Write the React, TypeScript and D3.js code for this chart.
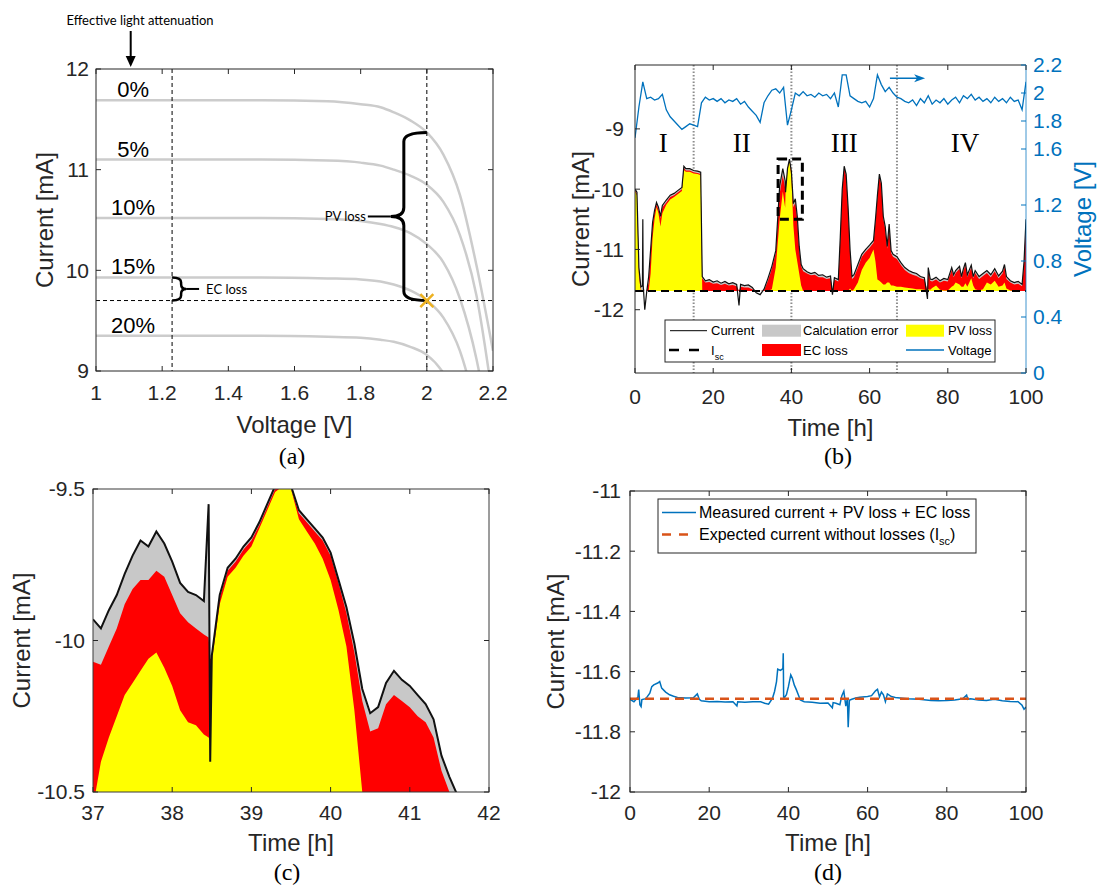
import React, { useEffect, useRef } from "react";
import * as d3 from "d3";

const SANS = "'Liberation Sans', Arial, Helvetica, sans-serif";
const SERIF = "'Liberation Serif', 'Times New Roman', serif";
const NOTE = "Lato, 'Open Sans', sans-serif";
const INK = "#262626";
const BLUE = "#0072BD";
const ORANGE = "#D95319";
const GOLD = "#EDB120";
const GREY_FILL = "#C8C8C8";

// ---------- (a) I-V curves at different light attenuation ----------
const attenuationLabels = ["0%", "5%", "10%", "15%", "20%"];
const ivVoltage = [1.0, 1.5, 1.7, 1.8, 1.86, 1.9, 1.95, 2.0, 2.05, 2.1, 2.15, 2.2];
const ivCurrent0 = [11.69, 11.69, 11.68, 11.65, 11.62, 11.57, 11.49, 11.37, 11.15, 10.75, 10.05, 9.2];
const ivCurrent5 = [11.1, 11.1, 11.09, 11.07, 11.04, 11.0, 10.94, 10.85, 10.68, 10.35, 9.75, 8.7];
const ivCurrent10 = [10.52, 10.52, 10.51, 10.49, 10.46, 10.43, 10.37, 10.26, 10.08, 9.72, 9.12, 8.2];
const ivCurrent15 = [9.93, 9.93, 9.92, 9.91, 9.89, 9.86, 9.8, 9.7, 9.53, 9.2, 8.6, 7.8];
const ivCurrent20 = [9.35, 9.35, 9.34, 9.33, 9.31, 9.29, 9.24, 9.16, 8.98, 8.65, 8.1, 7.3];
const voltageTicksA = [1, 1.2, 1.4, 1.6, 1.8, 2, 2.2];
const currentTicksA = [9, 10, 11, 12];
const ecVoltage = 1.23;
const opVoltage = 2.0;
const opCurrent = 9.7;

// ---------- (b) 100 h operation ----------
const isc = -11.69;
const hoursB = [
  0, 0.5, 1, 1.5, 1.9, 2, 2.1, 2.5, 3, 3.5,
  4, 4.5, 5, 5.5, 6, 6.5, 7, 8, 9, 10,
  11, 12, 12.5, 13, 14, 15, 16, 16.8, 17.2, 18,
  19, 20, 21, 22, 23, 24, 25, 26, 26.6, 27,
  28, 29, 30, 31, 32, 33, 34, 35, 36, 37,
  37.8, 38.4, 38.5, 39, 39.5, 40, 40.5, 41, 41.5, 42,
  42.5, 43, 44, 45, 46, 47, 48, 49, 50, 50.5,
  51, 52, 52.5, 53, 53.5, 54, 54.5, 55, 55.5, 56,
  57, 58, 59, 60, 61, 61.5, 62, 62.5, 63, 63.5,
  64, 64.5, 65, 65.5, 66, 67, 68, 69, 70, 71,
  72, 73, 74, 74.8, 75, 75.5, 76, 77, 78, 79,
  80, 81, 81.5, 82, 83, 83.5, 84, 84.5, 85, 86,
  86.5, 87, 88, 89, 90, 91, 92, 93, 94, 94.5,
  95, 96, 97, 98, 99, 99.5, 100,
];
const currentB = [
  -10.0, -10.05, -11.3, -11.62, -11.6, -10.5, -11.6, -12.0, -11.7, -11.45,
  -11.0, -10.55, -10.35, -10.22, -10.3, -10.45, -10.27, -10.18, -10.1, -10.07,
  -10.02, -9.97, -9.62, -9.66, -9.66, -9.69, -9.7, -9.72, -11.45, -11.52,
  -11.5, -11.54, -11.52, -11.56, -11.53, -11.57, -11.55, -11.58, -11.93, -11.58,
  -11.6, -11.59, -11.63, -11.72, -11.75, -11.66, -11.48, -11.28, -11.02, -9.95,
  -9.66, -9.86, -10.05, -9.66, -9.5, -9.71, -10.24, -10.16, -10.45, -10.95,
  -11.25, -11.32, -11.37, -11.4, -11.38, -11.43, -11.42, -11.46, -11.44, -11.75,
  -11.47, -11.5, -10.8, -10.0, -9.62, -9.75, -10.3, -11.0, -11.45, -11.42,
  -11.25, -11.08, -11.0, -10.93, -10.85, -10.5, -10.1, -9.75, -9.9, -10.45,
  -10.62, -10.95, -10.58, -11.02, -11.08, -11.12, -11.22, -11.3, -11.35, -11.38,
  -11.4, -11.45, -11.47, -11.82, -11.3, -11.49, -11.5, -11.46, -11.52, -11.48,
  -11.5, -11.3, -11.42, -11.35, -11.28, -11.45, -11.32, -11.22, -11.42, -11.26,
  -11.45, -11.35, -11.45, -11.4, -11.35, -11.42, -11.32, -11.44, -11.36, -11.25,
  -11.45, -11.52, -11.55, -11.53, -11.58, -11.2, -10.5,
];
const ecTopB = [
  -10.02, -10.08, -11.35, -11.66, -11.69, -11.69, -11.69, -11.69, -11.69, -11.55,
  -11.05, -10.6, -10.38, -10.25, -10.34, -10.48, -10.3, -10.22, -10.13, -10.1,
  -10.05, -10.0, -9.65, -9.69, -9.69, -9.72, -9.73, -9.75, -11.48, -11.55,
  -11.54, -11.57, -11.56, -11.59, -11.57, -11.6, -11.59, -11.61, -11.69, -11.62,
  -11.63, -11.63, -11.66, -11.69, -11.69, -11.68, -11.52, -11.32, -11.06, -10.07,
  -9.77, -9.98, -10.06, -9.67, -9.51, -9.72, -10.3, -10.22, -10.5, -11.0,
  -11.28, -11.36, -11.4, -11.43, -11.42, -11.46, -11.46, -11.49, -11.48, -11.69,
  -11.5, -11.53, -10.83, -10.03, -9.65, -9.78, -10.33, -11.04, -11.49, -11.46,
  -11.3, -11.12, -11.04, -10.97, -10.89, -10.53, -10.13, -9.78, -9.94, -10.49,
  -10.66, -10.99, -10.62, -11.06, -11.12, -11.16, -11.26, -11.34, -11.39, -11.42,
  -11.44, -11.48, -11.5, -11.69, -11.34, -11.52, -11.53, -11.5, -11.55, -11.52,
  -11.53, -11.34, -11.46, -11.39, -11.32, -11.48, -11.36, -11.26, -11.46, -11.3,
  -11.48, -11.39, -11.49, -11.44, -11.39, -11.46, -11.36, -11.48, -11.4, -11.29,
  -11.49, -11.55, -11.58, -11.57, -11.61, -11.24, -10.53,
];
const pvTopB = [
  -10.04, -10.1, -11.45, -11.69, -11.69, -11.69, -11.69, -11.69, -11.69, -11.69,
  -11.4, -10.8, -10.5, -10.3, -10.4, -10.62, -10.4, -10.26, -10.17, -10.13,
  -10.08, -10.03, -9.68, -9.71, -9.71, -9.74, -9.75, -9.77, -11.69, -11.69,
  -11.69, -11.69, -11.69, -11.69, -11.69, -11.69, -11.69, -11.69, -11.69, -11.69,
  -11.69, -11.69, -11.69, -11.69, -11.69, -11.69, -11.69, -11.66, -11.3, -10.5,
  -10.04, -10.31, -10.07, -9.69, -9.52, -9.8, -10.6, -11.0, -11.2, -11.4,
  -11.6, -11.69, -11.69, -11.69, -11.69, -11.69, -11.69, -11.69, -11.69, -11.69,
  -11.69, -11.69, -11.69, -11.69, -11.69, -11.69, -11.69, -11.65, -11.69, -11.66,
  -11.55, -11.34, -11.22, -11.14, -11.0, -11.2, -11.5, -11.52, -11.55, -11.58,
  -11.58, -11.55, -11.55, -11.6, -11.6, -11.62, -11.62, -11.63, -11.64, -11.65,
  -11.66, -11.66, -11.67, -11.69, -11.66, -11.67, -11.64, -11.6, -11.67, -11.68,
  -11.68, -11.62, -11.6, -11.55, -11.58, -11.62, -11.62, -11.56, -11.62, -11.48,
  -11.6, -11.66, -11.68, -11.66, -11.55, -11.58, -11.52, -11.62, -11.6, -11.55,
  -11.65, -11.68, -11.69, -11.69, -11.69, -11.69, -11.69,
];
// voltage sampled every hour, 0..100 h
const voltageB = [
  1.68, 1.9, 2.08, 1.96, 1.97, 1.95, 1.96, 1.99, 1.88, 1.83,
  1.8, 1.77, 1.74, 1.76, 1.78, 1.77, 1.76, 1.93, 1.97, 1.95,
  1.96, 1.94, 1.96, 1.93, 1.95, 1.94, 1.96, 1.92, 1.94, 1.9,
  1.87, 1.84, 1.79, 1.93, 1.98, 2.02, 2.03, 2.0, 2.04, 1.77,
  1.88, 2.0, 1.98, 2.01, 1.98, 1.99, 1.97, 2.0, 1.98, 1.99,
  1.96, 2.0, 1.9, 2.13, 2.13, 1.98, 1.96, 1.94, 1.93, 1.94,
  1.9, 1.96, 2.13, 2.06, 2.01, 2.04, 2.0, 1.97, 1.96, 1.94,
  1.93, 1.95, 1.91, 1.96, 1.93, 1.98, 1.92, 1.95, 1.93, 1.96,
  1.92, 1.95, 1.97, 1.93, 1.98, 1.96, 1.99, 1.95, 1.97, 1.94,
  1.96, 1.93, 1.97, 1.94, 1.96, 1.93, 1.97, 1.94, 1.95, 1.88,
  2.08,
];
const phaseBounds = [15, 40, 67];
const phaseNames = ["I", "II", "III", "IV"];
const phaseCentres = [7.2, 27.3, 53.5, 84.4];
const zoomWindow = { t0: 36.6, t1: 42.8, i0: -10.5, i1: -9.5 };
const timeTicks = [0, 20, 40, 60, 80, 100];
const currentTicksB = [-12, -11, -10, -9];
const voltageTicksB = [0, 0.4, 0.8, 1.2, 1.6, 1.8, 2, 2.2];

// ---------- (c) zoom 37-42 h ----------
const hoursC = [
  37.0, 37.1, 37.2, 37.3, 37.4, 37.5, 37.6, 37.7, 37.8, 37.9,
  38.0, 38.1, 38.2, 38.3, 38.4, 38.46, 38.48, 38.5, 38.6, 38.7,
  38.8, 38.9, 39.0, 39.1, 39.2, 39.3, 39.4, 39.5, 39.6, 39.7,
  39.8, 39.9, 40.0, 40.1, 40.2, 40.3, 40.4, 40.5, 40.6, 40.7,
  40.8, 40.9, 41.0, 41.1, 41.2, 41.3, 41.4, 41.5, 41.6, 41.7,
];
const currentC = [
  -9.93, -9.96, -9.9, -9.85, -9.78, -9.72, -9.67, -9.69, -9.64, -9.68,
  -9.74, -9.81, -9.84, -9.85, -9.87, -9.55, -10.4, -10.05, -9.85, -9.76,
  -9.73, -9.69, -9.66, -9.61, -9.55, -9.49, -9.48, -9.49, -9.57, -9.6,
  -9.63, -9.66, -9.71, -9.8, -9.89, -10.01, -10.16, -10.24, -10.22, -10.14,
  -10.1, -10.13, -10.15, -10.18, -10.21, -10.26, -10.38, -10.45, -10.51, -10.6,
];
const ecTopC = [
  -10.07, -10.08, -10.02, -9.96, -9.88, -9.83, -9.8, -9.8, -9.77, -9.79,
  -9.85, -9.91, -9.94, -9.96, -9.98, -9.99, -10.06, -10.06, -9.86, -9.77,
  -9.74, -9.7, -9.67, -9.62, -9.56, -9.5, -9.49, -9.5, -9.58, -9.61,
  -9.64, -9.67, -9.72, -9.81, -9.91, -10.04, -10.2, -10.3, -10.29, -10.21,
  -10.18, -10.2, -10.22, -10.25, -10.27, -10.32, -10.43, -10.5, -10.58, -10.66,
];
const pvTopC = [
  -10.55, -10.4, -10.32, -10.25, -10.18, -10.14, -10.1, -10.06, -10.04, -10.09,
  -10.15, -10.23, -10.27, -10.28, -10.31, -10.32, -10.33, -10.07, -9.88, -9.79,
  -9.76, -9.72, -9.69, -9.63, -9.57, -9.51, -9.49, -9.5, -9.6, -9.64,
  -9.68, -9.73, -9.8, -9.9, -10.02, -10.23, -10.5, -10.75, -10.9, -11.0,
  -11.1, -11.1, -11.2, -11.2, -11.3, -11.3, -11.4, -11.4, -11.5, -11.5,
];
const timeTicksC = [37, 38, 39, 40, 41, 42];
const currentTicksC = [-10.5, -10, -9.5];

// ---------- (d) measured current + losses ----------
const hoursD = [
  0, 1, 2, 2.2, 2.5, 2.8, 3, 4, 5, 5.5,
  6, 7, 7.5, 8, 9, 10, 11, 12, 14, 16,
  17, 17.5, 18, 20, 22, 24, 26, 27, 27.2, 29,
  31, 33, 34, 35, 36, 36.5, 37, 37.3, 38, 38.6,
  38.7, 38.8, 39, 39.5, 40, 40.6, 41, 41.5, 42, 42.5,
  43, 44, 46, 48, 50, 51.1, 51.3, 52, 53, 53.5,
  54, 54.5, 54.9, 55.1, 55.4, 56, 57, 58, 60, 61,
  62, 62.5, 63, 63.5, 64, 64.5, 65, 66, 67, 70,
  73, 76, 78, 80, 82, 84, 85, 85.3, 86, 88,
  90, 92, 94, 96, 98, 99, 99.5, 100,
];
const sumCurrentD = [
  -11.692, -11.7, -11.685, -11.66, -11.71, -11.716, -11.693, -11.69, -11.672, -11.65,
  -11.644, -11.638, -11.633, -11.655, -11.668, -11.677, -11.682, -11.686, -11.688, -11.687,
  -11.674, -11.692, -11.697, -11.7, -11.699, -11.701, -11.7, -11.714, -11.7, -11.702,
  -11.7, -11.7, -11.705, -11.708, -11.688, -11.666, -11.633, -11.592, -11.596, -11.59,
  -11.539, -11.685, -11.686, -11.677, -11.65, -11.611, -11.622, -11.645, -11.66, -11.677,
  -11.694, -11.7, -11.702, -11.705, -11.704, -11.72, -11.703, -11.705, -11.71, -11.68,
  -11.665, -11.715, -11.69, -11.785, -11.695, -11.692, -11.688, -11.685, -11.683, -11.68,
  -11.664, -11.659, -11.684, -11.668, -11.677, -11.7, -11.674, -11.683, -11.686, -11.69,
  -11.692, -11.696, -11.697, -11.696, -11.694, -11.69, -11.678, -11.692, -11.69, -11.694,
  -11.696, -11.692, -11.697, -11.699, -11.7, -11.712, -11.725, -11.718,
];
const currentTicksD = [-12, -11.8, -11.6, -11.4, -11.2, -11];

type Sel = d3.Selection<SVGGElement, unknown, null, undefined>;

function frame(g: Sel, x0: number, x1: number, y0: number, y1: number, color = INK) {
  g.append("rect")
    .attr("x", x0).attr("y", y0).attr("width", x1 - x0).attr("height", y1 - y0)
    .attr("fill", "none").attr("stroke", color).attr("stroke-width", 1);
}

function xAxis(g: Sel, sc: d3.ScaleLinear<number, number>, ticks: number[], yb: number, yt: number, labelY: number, top = true) {
  ticks.forEach((v) => {
    const x = sc(v);
    g.append("line").attr("x1", x).attr("x2", x).attr("y1", yb).attr("y2", yb - 5).attr("stroke", INK);
    if (top) g.append("line").attr("x1", x).attr("x2", x).attr("y1", yt).attr("y2", yt + 5).attr("stroke", INK);
    g.append("text").attr("x", x).attr("y", labelY).attr("dy", "0.35em")
      .attr("text-anchor", "middle").attr("font-family", SANS).attr("font-size", 21).attr("fill", INK)
      .text(String(v));
  });
}

function yAxis(g: Sel, sc: d3.ScaleLinear<number, number>, ticks: number[], xl: number, xr: number | null, labelX: number, color = INK, side: "left" | "right" = "left") {
  ticks.forEach((v) => {
    const y = sc(v);
    const dir = side === "left" ? 1 : -1;
    g.append("line").attr("x1", xl).attr("x2", xl + dir * 5).attr("y1", y).attr("y2", y).attr("stroke", color);
    if (xr !== null) g.append("line").attr("x1", xr).attr("x2", xr - 5).attr("y1", y).attr("y2", y).attr("stroke", color);
    g.append("text").attr("x", labelX).attr("y", y).attr("dy", "0.35em")
      .attr("text-anchor", side === "left" ? "end" : "start")
      .attr("font-family", SANS).attr("font-size", 21).attr("fill", color)
      .text(String(v));
  });
}

function axisLabel(g: Sel, text: string, x: number, y: number, rotate: boolean, color = INK) {
  g.append("text")
    .attr("transform", `translate(${x},${y})${rotate ? " rotate(-90)" : ""}`)
    .attr("dy", "0.35em").attr("text-anchor", "middle")
    .attr("font-family", SANS).attr("font-size", 24).attr("fill", color)
    .text(text);
}

function caption(g: Sel, text: string, x: number, y: number) {
  g.append("text").attr("x", x).attr("y", y).attr("text-anchor", "middle")
    .attr("font-family", SERIF).attr("font-size", 24).attr("fill", "#000").text(text);
}

function bracePath(x0: number, yTop: number, yBot: number, xs: number, tip: number, r: number) {
  const ym = (yTop + yBot) / 2;
  const dir = Math.sign(xs - x0);
  return `M${x0},${yTop} Q${xs},${yTop} ${xs},${yTop + r} L${xs},${ym - r} Q${xs},${ym} ${xs + dir * tip},${ym} ` +
    `Q${xs},${ym} ${xs},${ym + r} L${xs},${yBot - r} Q${xs},${yBot} ${x0},${yBot}`;
}

function clip(defs: d3.Selection<SVGDefsElement, unknown, null, undefined>, id: string, x0: number, x1: number, y0: number, y1: number) {
  defs.append("clipPath").attr("id", id).append("rect")
    .attr("x", x0).attr("y", y0).attr("width", x1 - x0).attr("height", y1 - y0);
}

export default function App() {
  const ref = useRef<SVGSVGElement>(null);

  useEffect(() => {
    const svg = d3.select(ref.current);
    svg.selectAll("*").remove();
    const defs = svg.append("defs");

    // ================= (a) =================
    const A = { x0: 96, x1: 493, y0: 69, y1: 371 };
    clip(defs, "clipA", A.x0, A.x1, A.y0, A.y1);
    const xA = d3.scaleLinear().domain([1, 2.2]).range([A.x0, A.x1]);
    const yA = d3.scaleLinear().domain([9, 12]).range([A.y1, A.y0]);
    const gA = svg.append("g") as unknown as Sel;
    const ivCurves = [ivCurrent0, ivCurrent5, ivCurrent10, ivCurrent15, ivCurrent20];
    const ivLine = d3.line<number>().x((_, i) => xA(ivVoltage[i])).y((d) => yA(d)).curve(d3.curveMonotoneX);
    const plotA = gA.append("g").attr("clip-path", "url(#clipA)");
    ivCurves.forEach((c) => {
      plotA.append("path").attr("d", ivLine(c)).attr("fill", "none").attr("stroke", "#cccccc").attr("stroke-width", 2.5);
    });
    [ecVoltage, opVoltage].forEach((v) => {
      plotA.append("line").attr("x1", xA(v)).attr("x2", xA(v)).attr("y1", A.y0).attr("y2", A.y1)
        .attr("stroke", "#000").attr("stroke-width", 1).attr("stroke-dasharray", "4,3");
    });
    plotA.append("line").attr("x1", A.x0).attr("x2", A.x1).attr("y1", yA(opCurrent)).attr("y2", yA(opCurrent))
      .attr("stroke", "#000").attr("stroke-width", 1).attr("stroke-dasharray", "4,3");

    ivCurves.forEach((c, k) => {
      gA.append("text").attr("x", xA(1.112)).attr("y", yA(c[0]) - 3).attr("text-anchor", "middle")
        .attr("font-family", SANS).attr("font-size", 22).attr("fill", "#000").text(attenuationLabels[k]);
    });

    // PV loss brace
    const bx = xA(opVoltage);
    gA.append("path").attr("d", bracePath(bx, yA(ivCurrent0[7]), yA(opCurrent), bx - 23, 13, 9))
      .attr("fill", "none").attr("stroke", "#000").attr("stroke-width", 3);
    const pvMid = (yA(ivCurrent0[7]) + yA(opCurrent)) / 2;
    gA.append("line").attr("x1", bx - 36).attr("x2", bx - 59).attr("y1", pvMid).attr("y2", pvMid)
      .attr("stroke", "#000").attr("stroke-width", 2);
    gA.append("text").attr("x", bx - 61).attr("y", pvMid).attr("dy", "0.35em").attr("text-anchor", "end")
      .attr("font-family", NOTE).attr("font-size", 13).attr("fill", "#000").text("PV loss");

    // EC loss brace
    const ex = xA(ecVoltage);
    gA.append("path").attr("d", bracePath(ex, yA(ivCurrent15[0]), yA(opCurrent), ex + 9, 5, 5))
      .attr("fill", "none").attr("stroke", "#000").attr("stroke-width", 2.5);
    const ecMid = (yA(ivCurrent15[0]) + yA(opCurrent)) / 2;
    gA.append("line").attr("x1", ex + 14).attr("x2", ex + 27).attr("y1", ecMid).attr("y2", ecMid)
      .attr("stroke", "#000").attr("stroke-width", 2);
    gA.append("text").attr("x", ex + 34).attr("y", ecMid).attr("dy", "0.35em")
      .attr("font-family", NOTE).attr("font-size", 13).attr("fill", "#000").text("EC loss");

    // operating point marker
    gA.append("path").attr("transform", `translate(${xA(opVoltage)},${yA(opCurrent)})`)
      .attr("d", "M-6.5,-6.5L6.5,6.5M-6.5,6.5L6.5,-6.5").attr("stroke", GOLD).attr("stroke-width", 2.5);

    // attenuation arrow
    gA.append("text").attr("x", 140).attr("y", 25).attr("text-anchor", "middle")
      .attr("font-family", NOTE).attr("font-size", 13).attr("fill", "#000").text("Effective light attenuation");
    gA.append("line").attr("x1", 130.7).attr("x2", 130.7).attr("y1", 31).attr("y2", 58).attr("stroke", "#000").attr("stroke-width", 2);
    gA.append("path").attr("d", "M125.7,56 L135.7,56 L130.7,67 Z").attr("fill", "#000");

    frame(gA, A.x0, A.x1, A.y0, A.y1);
    xAxis(gA, xA, voltageTicksA, A.y1, A.y0, 393);
    yAxis(gA, yA, currentTicksA, A.x0, A.x1, 89);
    axisLabel(gA, "Voltage [V]", (A.x0 + A.x1) / 2, 425, false);
    axisLabel(gA, "Current [mA]", 45, (A.y0 + A.y1) / 2, true);
    caption(gA, "(a)", 292, 464);

    // ================= (b) =================
    const B = { x0: 635, x1: 1026, y0: 65, y1: 373 };
    clip(defs, "clipB", B.x0, B.x1, B.y0, B.y1);
    const xB = d3.scaleLinear().domain([0, 100]).range([B.x0, B.x1]);
    const yB = d3.scaleLinear().domain([-13.05, -7.94]).range([B.y1, B.y0]);
    const vB = d3.scaleLinear().domain([0, 2.2]).range([B.y1, B.y0]);
    const gB = svg.append("g") as unknown as Sel;
    const plotB = gB.append("g").attr("clip-path", "url(#clipB)");

    phaseBounds.forEach((t) => {
      plotB.append("line").attr("x1", xB(t)).attr("x2", xB(t)).attr("y1", B.y0).attr("y2", B.y1)
        .attr("stroke", "#8c8c8c").attr("stroke-width", 2).attr("stroke-dasharray", "1.5,1.8");
    });
    const vLine = d3.line<number>().x((_, i) => xB(i)).y((d) => vB(d));
    plotB.append("path").attr("d", vLine(voltageB)).attr("fill", "none").attr("stroke", BLUE).attr("stroke-width", 1.3);

    const areaB = d3.area<number>().x((_, i) => xB(hoursB[i])).y0(yB(isc)).y1((d) => yB(Math.max(d, isc)));
    plotB.append("path").attr("d", areaB(currentB)).attr("fill", GREY_FILL);
    plotB.append("path").attr("d", areaB(ecTopB)).attr("fill", "#ff0000");
    plotB.append("path").attr("d", areaB(pvTopB)).attr("fill", "#ffff00");
    plotB.append("line").attr("x1", B.x0).attr("x2", B.x1).attr("y1", yB(isc)).attr("y2", yB(isc))
      .attr("stroke", "#000").attr("stroke-width", 2).attr("stroke-dasharray", "8,5");
    const curLineB = d3.line<number>().x((_, i) => xB(hoursB[i])).y((d) => yB(d));
    plotB.append("path").attr("d", curLineB(currentB)).attr("fill", "none").attr("stroke", "#111").attr("stroke-width", 1.2);

    gB.append("rect")
      .attr("x", xB(zoomWindow.t0)).attr("y", yB(zoomWindow.i1))
      .attr("width", xB(zoomWindow.t1) - xB(zoomWindow.t0)).attr("height", yB(zoomWindow.i0) - yB(zoomWindow.i1))
      .attr("fill", "none").attr("stroke", "#000").attr("stroke-width", 3).attr("stroke-dasharray", "9,5");

    phaseNames.forEach((n, k) => {
      gB.append("text").attr("x", xB(phaseCentres[k])).attr("y", 152).attr("text-anchor", "middle")
        .attr("font-family", SERIF).attr("font-size", 27).attr("fill", "#000").text(n);
    });

    // arrow pointing to the voltage axis
    const ay = vB(2.105);
    gB.append("line").attr("x1", xB(65.2)).attr("x2", xB(74.2) - 4).attr("y1", ay).attr("y2", ay).attr("stroke", BLUE).attr("stroke-width", 1.5);
    gB.append("path").attr("d", `M${xB(74.2)},${ay} L${xB(74.2) - 11},${ay - 4} L${xB(74.2) - 8},${ay} L${xB(74.2) - 11},${ay + 4} Z`).attr("fill", BLUE);

    // axes
    gB.append("line").attr("x1", B.x0).attr("x2", B.x1).attr("y1", B.y0).attr("y2", B.y0).attr("stroke", INK);
    gB.append("line").attr("x1", B.x0).attr("x2", B.x1).attr("y1", B.y1).attr("y2", B.y1).attr("stroke", INK);
    gB.append("line").attr("x1", B.x0).attr("x2", B.x0).attr("y1", B.y0).attr("y2", B.y1).attr("stroke", INK);
    gB.append("line").attr("x1", B.x1).attr("x2", B.x1).attr("y1", B.y0).attr("y2", B.y1).attr("stroke", BLUE).attr("stroke-opacity", 0.75);
    xAxis(gB, xB, timeTicks, B.y1, B.y0, 397);
    yAxis(gB, yB, currentTicksB, B.x0, null, 624);
    yAxis(gB, vB, voltageTicksB, B.x1, null, 1033, BLUE, "right");
    axisLabel(gB, "Time [h]", (B.x0 + B.x1) / 2, 428, false);
    axisLabel(gB, "Current [mA]", 581, (B.y0 + B.y1) / 2, true);
    axisLabel(gB, "Voltage [V]", 1083, (B.y0 + B.y1) / 2, true, BLUE);
    caption(gB, "(b)", 838, 464);

    // legend (b)
    const lg = gB.append("g").attr("font-family", SANS).attr("font-size", 13).attr("fill", "#000");
    lg.append("rect").attr("x", 665).attr("y", 320).attr("width", 330).attr("height", 42)
      .attr("fill", "#fff").attr("stroke", INK).attr("stroke-width", 1);
    const r1 = 330.7, r2 = 350;
    lg.append("line").attr("x1", 670).attr("x2", 707).attr("y1", r1).attr("y2", r1).attr("stroke", "#000").attr("stroke-width", 1);
    lg.append("text").attr("x", 711).attr("y", r1).attr("dy", "0.35em").text("Current");
    lg.append("rect").attr("x", 762).attr("y", r1 - 6).attr("width", 39).attr("height", 12).attr("fill", GREY_FILL);
    lg.append("text").attr("x", 803).attr("y", r1).attr("dy", "0.35em").text("Calculation error");
    lg.append("rect").attr("x", 906).attr("y", r1 - 6).attr("width", 38).attr("height", 12).attr("fill", "#ffff00");
    lg.append("text").attr("x", 948).attr("y", r1).attr("dy", "0.35em").text("PV loss");
    lg.append("line").attr("x1", 669).attr("x2", 707).attr("y1", r2).attr("y2", r2).attr("stroke", "#000")
      .attr("stroke-width", 2.5).attr("stroke-dasharray", "10,10");
    const iscText = lg.append("text").attr("x", 711).attr("y", r2).attr("dy", "0.35em");
    iscText.append("tspan").text("I");
    iscText.append("tspan").attr("font-size", 9).attr("dy", 5).text("sc");
    lg.append("rect").attr("x", 762).attr("y", r2 - 6).attr("width", 39).attr("height", 12).attr("fill", "#ff0000");
    lg.append("text").attr("x", 803).attr("y", r2).attr("dy", "0.35em").text("EC loss");
    lg.append("line").attr("x1", 906).attr("x2", 944).attr("y1", r2).attr("y2", r2).attr("stroke", BLUE).attr("stroke-width", 1.3);
    lg.append("text").attr("x", 948).attr("y", r2).attr("dy", "0.35em").text("Voltage");

    // ================= (c) =================
    const C = { x0: 93, x1: 489, y0: 489, y1: 792 };
    clip(defs, "clipC", C.x0, C.x1, C.y0, C.y1);
    const xC = d3.scaleLinear().domain([37, 42]).range([C.x0, C.x1]);
    const yC = d3.scaleLinear().domain([-10.5, -9.5]).range([C.y1, C.y0]);
    const gC = svg.append("g") as unknown as Sel;
    const plotC = gC.append("g").attr("clip-path", "url(#clipC)");
    const areaC = d3.area<number>().x((_, i) => xC(hoursC[i])).y0(yC(isc)).y1((d) => yC(d));
    plotC.append("path").attr("d", areaC(currentC)).attr("fill", GREY_FILL);
    plotC.append("path").attr("d", areaC(ecTopC)).attr("fill", "#ff0000");
    plotC.append("path").attr("d", areaC(pvTopC)).attr("fill", "#ffff00");
    const curLineC = d3.line<number>().x((_, i) => xC(hoursC[i])).y((d) => yC(d));
    plotC.append("path").attr("d", curLineC(currentC)).attr("fill", "none").attr("stroke", "#111").attr("stroke-width", 2);
    frame(gC, C.x0, C.x1, C.y0, C.y1, "#3a3a3a");
    xAxis(gC, xC, timeTicksC, C.y1, C.y0, 813);
    yAxis(gC, yC, currentTicksC, C.x0, C.x1, 85);
    axisLabel(gC, "Time [h]", (C.x0 + C.x1) / 2, 843, false);
    axisLabel(gC, "Current [mA]", 22, (C.y0 + C.y1) / 2, true);
    caption(gC, "(c)", 287, 880);

    // ================= (d) =================
    const D = { x0: 630, x1: 1026, y0: 491, y1: 792 };
    clip(defs, "clipD", D.x0, D.x1, D.y0, D.y1);
    const xD = d3.scaleLinear().domain([0, 100]).range([D.x0, D.x1]);
    const yD = d3.scaleLinear().domain([-12, -11]).range([D.y1, D.y0]);
    const gD = svg.append("g") as unknown as Sel;
    const plotD = gD.append("g").attr("clip-path", "url(#clipD)");
    const lineD = d3.line<number>().x((_, i) => xD(hoursD[i])).y((d) => yD(d));
    plotD.append("path").attr("d", lineD(sumCurrentD)).attr("fill", "none").attr("stroke", BLUE).attr("stroke-width", 1.5);
    plotD.append("line").attr("x1", D.x0).attr("x2", D.x1).attr("y1", yD(isc)).attr("y2", yD(isc))
      .attr("stroke", ORANGE).attr("stroke-width", 2.5).attr("stroke-dasharray", "9,6");
    frame(gD, D.x0, D.x1, D.y0, D.y1);
    xAxis(gD, xD, timeTicks, D.y1, D.y0, 813);
    yAxis(gD, yD, currentTicksD, D.x0, D.x1, 621);
    axisLabel(gD, "Time [h]", (D.x0 + D.x1) / 2, 843, false);
    axisLabel(gD, "Current [mA]", 556, (D.y0 + D.y1) / 2, true);
    caption(gD, "(d)", 828, 880);

    // legend (d)
    const ld = gD.append("g").attr("font-family", SANS).attr("font-size", 16).attr("fill", "#000");
    ld.append("rect").attr("x", 658).attr("y", 499).attr("width", 318).attr("height", 54)
      .attr("fill", "#fff").attr("stroke", INK).attr("stroke-width", 1);
    ld.append("line").attr("x1", 662).attr("x2", 696).attr("y1", 512.5).attr("y2", 512.5).attr("stroke", BLUE).attr("stroke-width", 1.3);
    ld.append("text").attr("x", 699).attr("y", 512.5).attr("dy", "0.35em").text("Measured current + PV loss + EC loss");
    ld.append("line").attr("x1", 662).attr("x2", 696).attr("y1", 534.5).attr("y2", 534.5).attr("stroke", ORANGE)
      .attr("stroke-width", 2.5).attr("stroke-dasharray", "9,8");
    const exp = ld.append("text").attr("x", 699).attr("y", 534.5).attr("dy", "0.35em");
    exp.append("tspan").text("Expected current without losses (I");
    exp.append("tspan").attr("font-size", 11).attr("dy", 5).text("sc");
    exp.append("tspan").attr("dy", -5).text(")");
  }, []);

  return (
    <svg
      ref={ref}
      width={1098}
      height={886}
      style={{ position: "absolute", left: 0, top: 0, background: "#fff", display: "block" }}
    />
  );
}
